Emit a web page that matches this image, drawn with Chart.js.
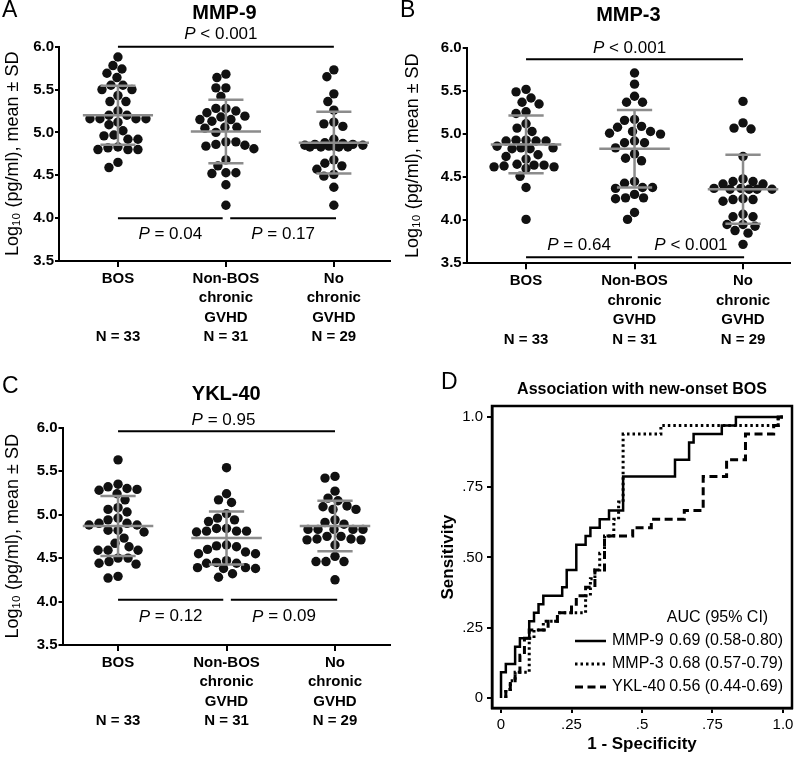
<!DOCTYPE html>
<html>
<head>
<meta charset="utf-8">
<script src="https://cdn.jsdelivr.net/npm/chart.js@4.4.1/dist/chart.umd.min.js"></script>
<style>
  body { margin: 0; background: #fff; }
  #fig { position: relative; width: 800px; height: 764px; }
  canvas { position: absolute; }
</style>
</head>
<body>
<div id="fig">
  <canvas id="panelA" width="400" height="360" style="left:0;top:0"></canvas>
  <canvas id="panelB" width="400" height="360" style="left:400px;top:0"></canvas>
  <canvas id="panelC" width="400" height="394" style="left:0;top:370px"></canvas>
  <canvas id="panelD" width="370" height="394" style="left:430px;top:370px"></canvas>
</div>
<script>
Chart.defaults.font.family = "'Liberation Sans', Arial, sans-serif";
Chart.defaults.color = '#000';
const FONT = "'Liberation Sans', Arial, sans-serif";

// x axis groups, one line per entry
const groupLabels = [['BOS', '', '', 'N = 33'], ['Non-BOS', 'chronic', 'GVHD', 'N = 31'], ['No', 'chronic', 'GVHD', 'N = 29']];
const yTicks = [3.5, 4.0, 4.5, 5.0, 5.5, 6.0];

// MMP-9, log10 pg/ml
const mmp9Bos = [5.88, 5.78, 5.74, 5.69, 5.64, 5.55, 5.55, 5.50, 5.50, 5.43, 5.36, 5.36, 5.25, 5.20, 5.20, 5.16, 5.16, 5.16, 5.16, 5.12, 5.09, 5.02, 4.97, 4.96, 4.92, 4.92, 4.83, 4.82, 4.80, 4.80, 4.80, 4.65, 4.59];
const mmp9NonBos = [5.68, 5.64, 5.52, 5.52, 5.42, 5.28, 5.28, 5.25, 5.23, 5.19, 5.18, 5.15, 5.15, 5.13, 5.06, 5.06, 5.05, 5.00, 4.89, 4.89, 4.86, 4.85, 4.84, 4.81, 4.68, 4.61, 4.53, 4.53, 4.52, 4.39, 4.15];
const mmp9NoCgvhd = [5.73, 5.65, 5.45, 5.36, 5.26, 5.12, 5.10, 5.07, 4.92, 4.88, 4.87, 4.86, 4.86, 4.85, 4.85, 4.84, 4.84, 4.83, 4.83, 4.83, 4.83, 4.68, 4.64, 4.61, 4.57, 4.51, 4.49, 4.36, 4.15];
const mmp9Mean = [5.20, 5.01, 4.88];
const mmp9Sd = [0.345, 0.37, 0.36];
const mmp9P = ['< 0.001', '= 0.04', '= 0.17']; // BOS vs no cGVHD, BOS vs non-BOS, non-BOS vs no cGVHD

// MMP-3
const mmp3Bos = [5.52, 5.49, 5.42, 5.37, 5.35, 5.26, 5.24, 5.12, 5.07, 5.03, 4.93, 4.93, 4.92, 4.92, 4.92, 4.86, 4.84, 4.84, 4.83, 4.83, 4.76, 4.74, 4.71, 4.65, 4.64, 4.64, 4.63, 4.62, 4.62, 4.60, 4.51, 4.38, 4.01];
const mmp3NonBos = [5.71, 5.58, 5.44, 5.37, 5.37, 5.17, 5.16, 5.09, 5.08, 5.03, 5.03, 5.01, 5.00, 4.92, 4.90, 4.90, 4.84, 4.77, 4.72, 4.69, 4.45, 4.43, 4.38, 4.38, 4.37, 4.30, 4.26, 4.26, 4.25, 4.09, 4.01];
const mmp3NoCgvhd = [5.38, 5.13, 5.07, 5.06, 4.74, 4.48, 4.45, 4.45, 4.42, 4.42, 4.37, 4.37, 4.36, 4.36, 4.36, 4.36, 4.25, 4.24, 4.24, 4.22, 4.07, 4.04, 4.04, 3.95, 3.95, 3.93, 3.88, 3.85, 3.72];
const mmp3Mean = [4.88, 4.83, 4.36];
const mmp3Sd = [0.335, 0.45, 0.40];
const mmp3P = ['< 0.001', '= 0.64', '< 0.001'];

// YKL-40
const ykl40Bos = [5.63, 5.35, 5.32, 5.30, 5.29, 5.28, 5.24, 5.17, 5.08, 5.06, 5.03, 4.96, 4.94, 4.90, 4.90, 4.88, 4.88, 4.82, 4.82, 4.80, 4.73, 4.67, 4.63, 4.59, 4.59, 4.59, 4.50, 4.50, 4.46, 4.44, 4.43, 4.29, 4.27];
const ykl40NonBos = [5.54, 5.24, 5.17, 5.14, 5.01, 4.96, 4.94, 4.92, 4.84, 4.84, 4.81, 4.81, 4.81, 4.80, 4.65, 4.64, 4.63, 4.60, 4.57, 4.55, 4.55, 4.47, 4.45, 4.44, 4.44, 4.39, 4.39, 4.38, 4.38, 4.32, 4.28];
const ykl40NoCgvhd = [5.44, 5.42, 5.27, 5.19, 5.16, 5.10, 5.09, 5.06, 5.06, 4.94, 4.91, 4.89, 4.83, 4.83, 4.83, 4.83, 4.83, 4.75, 4.75, 4.72, 4.72, 4.71, 4.71, 4.65, 4.52, 4.46, 4.46, 4.46, 4.25];
const ykl40Mean = [4.87, 4.73, 4.87];
const ykl40Sd = [0.345, 0.305, 0.29];
const ykl40P = ['= 0.95', '= 0.12', '= 0.09'];

// ROC, new-onset BOS (corner points, curve steps right then up)
const fprMmp9 = [0, 0, 0.017, 0.05, 0.067, 0.1, 0.117, 0.133, 0.15, 0.217, 0.233, 0.267, 0.3, 0.317, 0.35, 0.383, 0.433, 0.617, 0.667, 0.683, 0.783, 0.833, 1];
const sensMmp9 = [0, 0.091, 0.121, 0.182, 0.212, 0.273, 0.303, 0.333, 0.364, 0.394, 0.455, 0.545, 0.576, 0.606, 0.636, 0.667, 0.788, 0.848, 0.909, 0.939, 0.970, 1, 1];
const fprMmp3 = [0.017, 0.017, 0.033, 0.05, 0.1, 0.117, 0.15, 0.2, 0.3, 0.317, 0.333, 0.35, 0.367, 0.4, 0.417, 0.433, 0.567, 0.983, 1];
const sensMmp3 = [0, 0.030, 0.061, 0.091, 0.212, 0.242, 0.273, 0.303, 0.364, 0.424, 0.455, 0.515, 0.576, 0.636, 0.697, 0.939, 0.970, 1, 1];
const fprYkl40 = [0.017, 0.017, 0.033, 0.05, 0.067, 0.083, 0.1, 0.167, 0.2, 0.25, 0.267, 0.3, 0.333, 0.367, 0.467, 0.533, 0.65, 0.717, 0.8, 0.867, 0.967, 0.983, 1];
const sensYkl40 = [0, 0.030, 0.061, 0.091, 0.152, 0.212, 0.242, 0.273, 0.303, 0.333, 0.364, 0.394, 0.455, 0.576, 0.606, 0.636, 0.667, 0.788, 0.848, 0.939, 0.970, 1, 1];
const rocLabels = ['MMP-9', 'MMP-3', 'YKL-40'];
const aucValue = [0.69, 0.68, 0.56];
const aucLow = [0.58, 0.57, 0.44];
const aucHigh = [0.80, 0.79, 0.69];
const rocTicks = [0, 0.25, 0.5, 0.75, 1];
const rocXLabels = ['0', '.25', '.5', '.75', '1.0'];
const rocYLabels = ['0', '.25', '.50', '.75', '1.0'];

// spread dots sideways like a column scatter (pixel space, capped width)
function swarm(values, center, pxX, pxY) {
  const d = 9.6, maxHalf = 32;
  const placed = [];
  const out = [];
  const cands = [];
  for (let c = -maxHalf; c <= maxHalf; c++) cands.push(c);
  cands.sort((a, b) => Math.abs(a) - Math.abs(b) || a - b);
  const order = values.map((v, i) => i).sort((a, b) => values[b] - values[a]);
  order.forEach(i => {
    const py = values[i] * pxY;
    let best = 0, bestDist = -1;
    for (const c of cands) {
      let m = Infinity;
      placed.forEach(p => { m = Math.min(m, Math.hypot(p.x - c, p.y - py)); });
      if (m >= d) { best = c; bestDist = m; break; }
      if (m > bestDist + 0.5) { best = c; bestDist = m; }
    }
    placed.push({ x: best, y: py });
    out.push({ x: center + best / pxX, y: values[i] });
  });
  return out;
}

function drawP(ctx, cx, cy, rest) {
  const it = 'italic 17px ' + FONT, rg = '17px ' + FONT;
  ctx.font = it;
  const wP = ctx.measureText('P').width;
  ctx.font = rg;
  const wR = ctx.measureText(' ' + rest).width;
  const x0 = cx - (wP + wR) / 2;
  ctx.textAlign = 'left';
  ctx.textBaseline = 'middle';
  ctx.font = it;
  ctx.fillText('P', x0, cy);
  ctx.font = rg;
  ctx.fillText(' ' + rest, x0 + wP, cy);
}

function errorBars(cfg) {
  return {
    id: 'errorBars',
    afterDatasetsDraw(chart) {
      const { ctx, scales: { x, y } } = chart;
      ctx.save();
      ctx.strokeStyle = '#8c8c8c';
      ctx.lineWidth = 2.5;
      cfg.mean.forEach((m, i) => {
        const cx = x.getPixelForValue(i + 1);
        const half = x.getPixelForValue(i + 1.325) - cx;
        const cap = half / 2;
        const yM = y.getPixelForValue(m);
        const yH = y.getPixelForValue(m + cfg.sd[i]);
        const yL = y.getPixelForValue(m - cfg.sd[i]);
        ctx.beginPath();
        ctx.moveTo(cx - half, yM); ctx.lineTo(cx + half, yM);
        ctx.moveTo(cx, yH); ctx.lineTo(cx, yL);
        ctx.moveTo(cx - cap, yH); ctx.lineTo(cx + cap, yH);
        ctx.moveTo(cx - cap, yL); ctx.lineTo(cx + cap, yL);
        ctx.stroke();
      });
      ctx.restore();
    }
  };
}

function panelText(cfg) {
  return {
    id: 'panelText',
    afterDraw(chart) {
      const { ctx, chartArea: a, scales: { x, y } } = chart;
      ctx.save();
      ctx.fillStyle = '#000';
      ctx.textBaseline = 'middle';
      ctx.textAlign = 'left';
      ctx.font = '23px ' + FONT;
      ctx.fillText(cfg.letter, cfg.letterX, cfg.letterY);
      ctx.textAlign = 'center';
      ctx.font = 'bold 20px ' + FONT;
      ctx.fillText(cfg.title, (a.left + a.right) / 2, cfg.titleY);
      ctx.strokeStyle = '#000';
      ctx.lineWidth = 2;
      cfg.brackets.forEach((b, i) => {
        const x1 = x.getPixelForValue(b.x1), x2 = x.getPixelForValue(b.x2);
        const yy = y.getPixelForValue(b.y);
        ctx.beginPath();
        ctx.moveTo(x1, yy);
        ctx.lineTo(x2, yy);
        ctx.stroke();
        drawP(ctx, (x1 + x2) / 2 + (b.dx || 0), yy + b.dy, cfg.p[i]);
      });
      ctx.restore();
    }
  };
}

function dotPanel(cfg) {
  const points = [];
  cfg.values.forEach((vals, g) => {
    swarm(vals, g + 1, cfg.pxX, cfg.pxY).forEach(p => points.push(p));
  });
  return new Chart(document.getElementById(cfg.id), {
    type: 'scatter',
    data: {
      datasets: [{ data: points, pointRadius: 4.7, pointHoverRadius: 4.7, backgroundColor: '#111', borderWidth: 0 }]
    },
    options: {
      responsive: false,
      animation: false,
      events: [],
      layout: { padding: { top: cfg.top, right: cfg.right, left: 0, bottom: 0 } },
      plugins: { legend: { display: false }, tooltip: { enabled: false } },
      scales: {
        x: {
          type: 'linear',
          min: cfg.xMin,
          max: cfg.xMax,
          afterBuildTicks: s => { s.ticks = [1, 2, 3].map(v => ({ value: v })); },
          afterFit: s => { s.height = cfg.xAxisH; },
          ticks: {
            callback: v => groupLabels[v - 1],
            autoSkip: false, maxRotation: 0, padding: 2,
            font: { size: 15, weight: 'bold', lineHeight: 1.3 }
          },
          grid: { drawOnChartArea: false, tickLength: 6, color: '#000', lineWidth: 2 },
          border: { color: '#000', width: 2 }
        },
        y: {
          min: 3.5,
          max: 6.0,
          afterBuildTicks: s => { s.ticks = yTicks.map(v => ({ value: v })); },
          afterFit: s => { s.width = cfg.axisW; },
          ticks: { callback: v => v.toFixed(1), padding: 1, font: { size: 15, weight: 'bold' } },
          grid: { drawOnChartArea: false, tickLength: 4, color: '#000', lineWidth: 2 },
          border: { color: '#000', width: 2 },
          title: { display: true, text: 'Log₁₀ (pg/ml), mean ± SD', font: { size: 18 }, padding: { top: 2, bottom: 0 } }
        }
      }
    },
    plugins: [errorBars(cfg), panelText(cfg)]
  });
}

dotPanel({
  id: 'panelA', letter: 'A', letterX: 2, letterY: 11, title: 'MMP-9', titleY: 13,
  values: [mmp9Bos, mmp9NonBos, mmp9NoCgvhd], mean: mmp9Mean, sd: mmp9Sd, p: mmp9P,
  xMin: 0.454, xMax: 3.52, top: 46.7, right: 10, axisW: 59, xAxisH: 99, pxX: 108, pxY: 85.7,
  brackets: [
    { x1: 1, x2: 3, y: 6.0, dy: -12, dx: -5 },
    { x1: 1, x2: 1.97, y: 4.0, dy: 16 },
    { x1: 2.04, x2: 3.02, y: 4.0, dy: 16 }
  ]
});

dotPanel({
  id: 'panelB', letter: 'B', letterX: 0, letterY: 11, title: 'MMP-3', titleY: 15,
  values: [mmp3Bos, mmp3NonBos, mmp3NoCgvhd], mean: mmp3Mean, sd: mmp3Sd, p: mmp3P,
  xMin: 0.453, xMax: 3.433, top: 48, right: 10, axisW: 66.7, xAxisH: 96.7, pxX: 108.5, pxY: 86.2,
  brackets: [
    { x1: 1, x2: 3, y: 5.87, dy: -11, dx: -5 },
    { x1: 1, x2: 1.977, y: 3.57, dy: -12 },
    { x1: 2.03, x2: 3.01, y: 3.57, dy: -12 }
  ]
});

dotPanel({
  id: 'panelC', letter: 'C', letterX: 2, letterY: 17, title: 'YKL-40', titleY: 24,
  values: [ykl40Bos, ykl40NonBos, ykl40NoCgvhd], mean: ykl40Mean, sd: ykl40Sd, p: ykl40P,
  xMin: 0.488, xMax: 3.507, top: 57.7, right: 10, axisW: 62.5, xAxisH: 119, pxX: 108.5, pxY: 86.9,
  brackets: [
    { x1: 1, x2: 3, y: 5.96, dy: -11, dx: -3 },
    { x1: 1, x2: 1.97, y: 4.02, dy: 17 },
    { x1: 2.04, x2: 3.02, y: 4.02, dy: 17 }
  ]
});

// panel D: ROC curves
const rocStyles = [
  { borderWidth: 2.5, borderDash: [] },
  { borderWidth: 3, borderDash: [2.5, 3] },
  { borderWidth: 3, borderDash: [8, 4.5] }
];
const rocSeries = [[fprMmp9, sensMmp9], [fprMmp3, sensMmp3], [fprYkl40, sensYkl40]];

const rocDecor = {
  id: 'rocDecor',
  afterDraw(chart) {
    const { ctx, chartArea: a } = chart;
    ctx.save();
    ctx.strokeStyle = '#000';
    ctx.lineWidth = 2.5;
    ctx.strokeRect(a.left, a.top, a.right - a.left, a.bottom - a.top);
    ctx.fillStyle = '#000';
    ctx.textBaseline = 'middle';
    ctx.textAlign = 'left';
    ctx.font = '23px ' + FONT;
    ctx.fillText('D', 11, 13);
    ctx.textAlign = 'center';
    ctx.font = 'bold 16px ' + FONT;
    ctx.fillText('Association with new-onset BOS', (a.left + a.right) / 2, 20);
    // legend with AUC values
    ctx.font = '16px ' + FONT;
    ctx.fillText('AUC (95% CI)', 287.5, 248);
    chart.data.datasets.forEach((ds, i) => {
      const yy = 271 + i * 23;
      ctx.lineWidth = ds.borderWidth;
      ctx.setLineDash(ds.borderDash);
      ctx.beginPath();
      ctx.moveTo(145, yy);
      ctx.lineTo(176, yy);
      ctx.stroke();
      ctx.setLineDash([]);
      ctx.textAlign = 'left';
      ctx.fillText(ds.label, 182, yy);
      ctx.textAlign = 'right';
      ctx.fillText(aucValue[i].toFixed(2) + ' (' + aucLow[i].toFixed(2) + '-' + aucHigh[i].toFixed(2) + ')', 353, yy);
    });
    ctx.restore();
  }
};

new Chart(document.getElementById('panelD'), {
  type: 'scatter',
  data: {
    datasets: rocSeries.map((s, i) => Object.assign({
      label: rocLabels[i],
      data: s[0].map((fx, k) => ({ x: fx, y: s[1][k] })),
      showLine: true,
      stepped: 'before',
      pointRadius: 0,
      borderColor: '#000',
      fill: false
    }, rocStyles[i]))
  },
  options: {
    responsive: false,
    animation: false,
    events: [],
    layout: { padding: { top: 36, right: 8, left: 0, bottom: 0 } },
    plugins: { legend: { display: false }, tooltip: { enabled: false } },
    scales: {
      x: {
        type: 'linear', min: -0.032, max: 1.032,
        afterBuildTicks: s => { s.ticks = rocTicks.map(v => ({ value: v })); },
        afterFit: s => { s.height = 56; },
        ticks: { callback: (v, i) => rocXLabels[i], padding: 3, font: { size: 15 } },
        grid: { drawOnChartArea: false, tickLength: 5, color: '#000', lineWidth: 2 },
        border: { color: '#000', width: 2.5 },
        title: { display: true, text: '1 - Specificity', font: { size: 17, weight: 'bold' }, padding: { top: 0, bottom: 9 } }
      },
      y: {
        min: -0.036, max: 1.039,
        afterBuildTicks: s => { s.ticks = rocTicks.map(v => ({ value: v })); },
        afterFit: s => { s.width = 62; },
        ticks: { callback: (v, i) => rocYLabels[i], padding: 4, font: { size: 15 } },
        grid: { drawOnChartArea: false, tickLength: 5, color: '#000', lineWidth: 2 },
        border: { color: '#000', width: 2.5 },
        title: { display: true, text: 'Sensitivity', font: { size: 17, weight: 'bold' }, padding: { top: 8, bottom: 0 } }
      }
    }
  },
  plugins: [rocDecor]
});
</script>
</body>
</html>
